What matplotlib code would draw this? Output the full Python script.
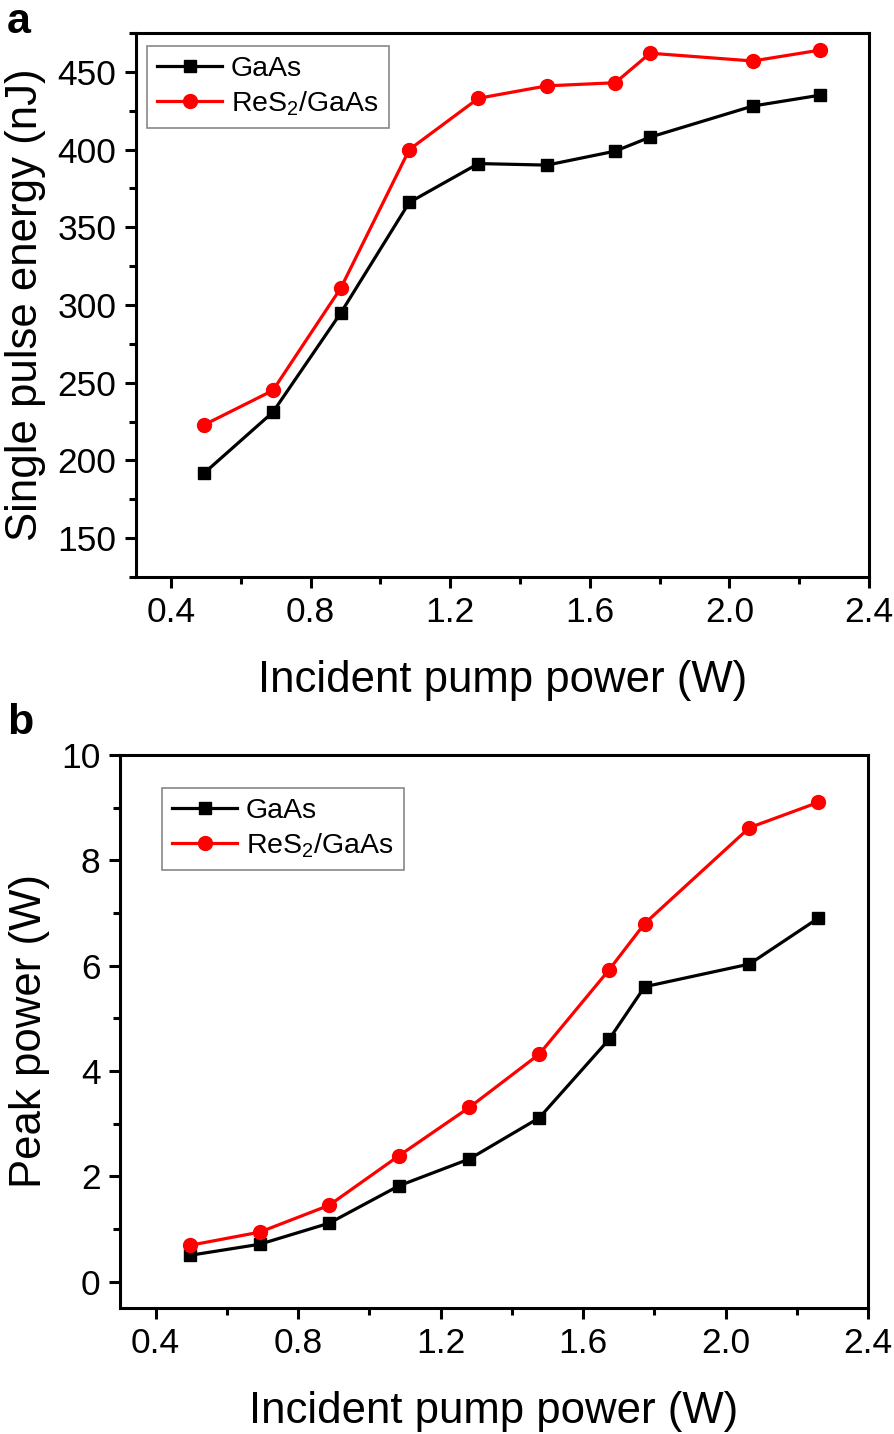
import matplotlib
matplotlib.use("Agg")
import matplotlib.pyplot as plt
from matplotlib.ticker import MultipleLocator

plt.rcParams['font.family'] = ['Liberation Sans', 'DejaVu Sans']
plt.rcParams['mathtext.fontset'] = 'custom'
plt.rcParams['mathtext.rm'] = 'Liberation Sans'
plt.rcParams['mathtext.it'] = 'Liberation Sans:italic'

pump_power = [0.496, 0.692, 0.887, 1.083, 1.281, 1.477, 1.673, 1.773, 2.067, 2.26]
energy_gaas = [192, 231, 295, 366, 391, 390, 399, 408, 428, 435]
energy_res2 = [223, 245, 311, 400, 433, 441, 443, 462, 457, 464]
peak_gaas = [0.50, 0.71, 1.11, 1.82, 2.33, 3.11, 4.60, 5.60, 6.03, 6.90]
peak_res2 = [0.69, 0.94, 1.45, 2.39, 3.31, 4.32, 5.92, 6.80, 8.62, 9.10]

W, H = 894, 1434
fig = plt.figure(figsize=(W/100, H/100), dpi=100)

def setup(ax, ylab, xlim, ylim, ymaj, ymin):
    ax.set_xlim(*xlim)
    ax.set_ylim(*ylim)
    ax.xaxis.set_major_locator(MultipleLocator(0.4))
    ax.xaxis.set_minor_locator(MultipleLocator(0.2))
    ax.yaxis.set_major_locator(MultipleLocator(ymaj))
    ax.yaxis.set_minor_locator(MultipleLocator(ymin))
    for s in ax.spines.values():
        s.set_linewidth(2.2)
    ax.tick_params(which='major', direction='out', length=8, width=2.2,
                   labelsize=25.5, top=False, right=False, pad=6)
    ax.tick_params(which='minor', direction='out', length=5, width=2.2,
                   top=False, right=False)
    ax.set_xlabel('Incident pump power (W)', fontsize=31.5, labelpad=22)
    ax.set_ylabel(ylab, fontsize=31.5, labelpad=8)

def legend(ax, x, y):
    leg = ax.legend(loc='upper left', bbox_to_anchor=(x/W, 1 - y/H),
                    bbox_transform=fig.transFigure, borderaxespad=0,
                    fontsize=20.5, fancybox=False, handlelength=2.3,
                    handletextpad=0.3, labelspacing=0.25, borderpad=0.35,
                    framealpha=1)
    leg.get_frame().set_edgecolor('#888888')
    leg.get_frame().set_linewidth(1.2)

# Panel a
ax1 = fig.add_axes([136/W, 1 - 577/H, (869-136)/W, (577-33)/H])
ax1.plot(pump_power, energy_gaas, '-s', color='black', lw=2.3, ms=9, label='GaAs')
ax1.plot(pump_power, energy_res2, '-o', color='#ff0000', lw=2.3, ms=10, label='ReS$_2$/GaAs')
setup(ax1, 'Single pulse energy (nJ)', (0.3, 2.4), (125, 475), 50, 25)
legend(ax1, 147, 46)
fig.text(7/W, 1 - 2/H, 'a', fontsize=31, fontweight='bold', va='top', ha='left')

# Panel b
ax2 = fig.add_axes([120/W, 1 - 1308/H, (868-120)/W, (1308-755)/H])
ax2.plot(pump_power, peak_gaas, '-s', color='black', lw=2.3, ms=9, label='GaAs')
ax2.plot(pump_power, peak_res2, '-o', color='#ff0000', lw=2.3, ms=10, label='ReS$_2$/GaAs')
setup(ax2, 'Peak power (W)', (0.3, 2.4), (-0.5, 10), 2, 1)
legend(ax2, 162, 788)
fig.text(7/W, 1 - 703/H, 'b', fontsize=31, fontweight='bold', va='top', ha='left')

fig.savefig('out.png', dpi=100)
